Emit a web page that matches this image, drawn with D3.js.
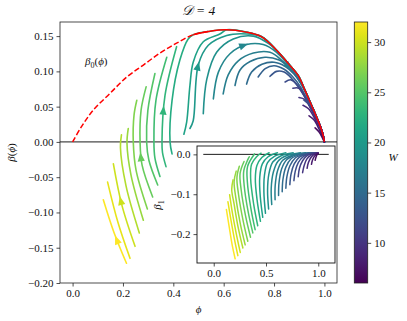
<!DOCTYPE html>
<html>
<head>
<meta charset="utf-8">
<script src="https://cdn.jsdelivr.net/npm/d3@7"></script>
<style>
body { margin: 0; background: #fff; }
text { font-family: "Liberation Serif", "DejaVu Serif", serif; fill: #111; }
</style>
</head>
<body>
<div id="viz"></div>
<script>
// beta_0(phi), red curve
var redPhi  = [0, 0.036, 0.082, 0.149, 0.215, 0.281, 0.347, 0.413, 0.479, 0.546, 0.612, 0.685, 0.751, 0.810, 0.857, 0.896, 0.923, 0.950, 0.976, 0.993, 1.0];
var redBeta = [0, 0.022, 0.045, 0.069, 0.092, 0.109, 0.126, 0.140, 0.152, 0.157, 0.159, 0.156, 0.149, 0.130, 0.111, 0.094, 0.073, 0.051, 0.029, 0.012, 0];
var dashedUntil = 0.546;

// one trajectory per W
var wValues = [32, 31, 30, 29, 28, 27, 26, 25, 24, 23, 22, 21, 20, 19, 18, 17, 16, 15, 14, 13, 12, 11, 10, 9, 8, 7];

// main panel: [phi, beta]
var mainCurves = [
  [[0.214,-0.172],[0.164,-0.128],[0.122,-0.082]],
  [[0.228,-0.165],[0.180,-0.114],[0.139,-0.057]],
  [[0.248,-0.148],[0.196,-0.090],[0.162,-0.031]],
  [[0.265,-0.129],[0.212,-0.062],[0.190,-0.008],[0.194,0.010]],
  [[0.281,-0.111],[0.232,-0.047],[0.216,-0.002],[0.221,0.019]],
  [[0.297,-0.095],[0.252,-0.040],[0.241,0],[0.244,0.038],[0.255,0.059]],
  [[0.318,-0.078],[0.276,-0.033],[0.268,0],[0.272,0.045],[0.292,0.078]],
  [[0.338,-0.061],[0.303,-0.026],[0.294,0],[0.299,0.045],[0.327,0.097]],
  [[0.347,-0.049],[0.327,-0.023],[0.323,0],[0.331,0.059],[0.374,0.120]],
  [[0.371,-0.035],[0.357,-0.015],[0.355,0],[0.367,0.066],[0.413,0.135]],
  [[0.395,-0.017],[0.387,0],[0.395,0.059],[0.426,0.116],[0.459,0.146]],
  [[0.442,0.011],[0.453,0.028],[0.466,0.080],[0.479,0.113],[0.519,0.142],[0.585,0.153]],
  [[0.466,0.019],[0.479,0.030],[0.499,0.109],[0.539,0.137],[0.612,0.151],[0.691,0.153]],
  [[0.519,0.040],[0.533,0.089],[0.572,0.127],[0.638,0.146],[0.718,0.150],[0.780,0.139]],
  [[0.559,0.061],[0.579,0.099],[0.625,0.125],[0.691,0.138],[0.757,0.138],[0.810,0.127],[0.857,0.109]],
  [[0.598,0.068],[0.618,0.095],[0.658,0.115],[0.718,0.126],[0.784,0.127],[0.836,0.114],[0.875,0.100],[0.910,0.081]],
  [[0.645,0.080],[0.665,0.102],[0.705,0.114],[0.764,0.120],[0.820,0.116],[0.860,0.105],[0.895,0.090],[0.925,0.071]],
  [[0.691,0.082],[0.711,0.099],[0.752,0.110],[0.800,0.113],[0.845,0.107],[0.880,0.096],[0.910,0.081],[0.935,0.062]],
  [[0.737,0.092],[0.765,0.104],[0.800,0.108],[0.840,0.103],[0.875,0.092],[0.905,0.078],[0.935,0.058]],
  [[0.784,0.093],[0.810,0.100],[0.840,0.099],[0.870,0.090],[0.900,0.076],[0.930,0.059],[0.955,0.043]],
  [[0.844,0.085],[0.867,0.088],[0.895,0.080],[0.920,0.066],[0.945,0.049]],
  [[0.875,0.076],[0.899,0.076],[0.925,0.062],[0.950,0.045]],
  [[0.899,0.063],[0.923,0.060],[0.945,0.048],[0.965,0.034]],
  [[0.915,0.052],[0.937,0.047],[0.959,0.035],[0.976,0.024]],
  [[0.939,0.037],[0.959,0.031],[0.979,0.018],[0.990,0.010]],
  [[0.963,0.020],[0.979,0.014],[0.993,0.005],[1.0,0]]
];
var firstJoined = 10; // from this curve on the trajectory runs down along beta_0

// arrows: [curve, phi, beta]
var arrowAt = [[0,0.172,-0.140],[2,0.204,-0.083],[6,0.272,-0.022],[9,0.363,0.044],[12,0.499,0.107],[14,0.681,0.133],[15,0.857,0.107],[20,0.940,0.058]];

// inset: [phi, beta_1]
var insetCurves = [
  [[0.205,-0.262],[0.175,-0.225],[0.148,-0.182],[0.121,-0.138]],
  [[0.231,-0.254],[0.196,-0.210],[0.163,-0.162],[0.136,-0.119]],
  [[0.254,-0.246],[0.215,-0.198],[0.178,-0.146],[0.152,-0.101]],
  [[0.279,-0.235],[0.235,-0.185],[0.195,-0.125],[0.172,-0.088],[0.185,-0.064]],
  [[0.301,-0.227],[0.255,-0.175],[0.212,-0.110],[0.195,-0.068],[0.215,-0.042]],
  [[0.326,-0.218],[0.280,-0.165],[0.237,-0.100],[0.222,-0.058],[0.245,-0.030]],
  [[0.352,-0.208],[0.305,-0.155],[0.263,-0.090],[0.252,-0.048],[0.290,-0.018]],
  [[0.374,-0.197],[0.330,-0.145],[0.292,-0.080],[0.288,-0.040],[0.340,-0.006]],
  [[0.396,-0.189],[0.355,-0.135],[0.322,-0.070],[0.324,-0.030],[0.390,0.001]],
  [[0.421,-0.179],[0.382,-0.125],[0.353,-0.060],[0.362,-0.025],[0.410,-0.006],[0.453,0.003]],
  [[0.447,-0.168],[0.415,-0.115],[0.398,-0.062],[0.413,-0.028],[0.460,-0.008],[0.530,0.004]],
  [[0.469,-0.158],[0.445,-0.105],[0.440,-0.058],[0.465,-0.024],[0.520,-0.006],[0.610,0.004]],
  [[0.495,-0.148],[0.480,-0.095],[0.485,-0.053],[0.515,-0.021],[0.580,-0.005],[0.690,0.004]],
  [[0.525,-0.137],[0.515,-0.090],[0.527,-0.050],[0.565,-0.019],[0.640,-0.004],[0.760,0.004]],
  [[0.555,-0.126],[0.550,-0.085],[0.570,-0.045],[0.615,-0.017],[0.700,-0.003],[0.830,0.004]],
  [[0.587,-0.114],[0.588,-0.078],[0.612,-0.040],[0.660,-0.015],[0.750,-0.002],[0.880,0.004]],
  [[0.620,-0.103],[0.625,-0.070],[0.650,-0.036],[0.700,-0.013],[0.790,-0.001],[0.910,0.004]],
  [[0.655,-0.094],[0.662,-0.063],[0.690,-0.032],[0.740,-0.011],[0.830,0],[0.940,0.004]],
  [[0.690,-0.085],[0.700,-0.056],[0.730,-0.028],[0.780,-0.009],[0.860,0],[0.960,0.004]],
  [[0.728,-0.076],[0.740,-0.049],[0.770,-0.024],[0.820,-0.007],[0.890,0.001],[0.975,0.004]],
  [[0.767,-0.066],[0.780,-0.042],[0.810,-0.020],[0.860,-0.005],[0.920,0.002],[0.985,0.004]],
  [[0.808,-0.056],[0.820,-0.035],[0.850,-0.016],[0.890,-0.004],[0.940,0.002],[0.990,0.004]],
  [[0.850,-0.046],[0.865,-0.028],[0.890,-0.012],[0.930,-0.002],[0.995,0.004]],
  [[0.893,-0.035],[0.905,-0.021],[0.930,-0.008],[0.960,0],[1.0,0.004]],
  [[0.935,-0.025],[0.945,-0.014],[0.965,-0.004],[1.0,0.003]],
  [[0.970,-0.015],[0.978,-0.007],[0.990,0],[1.0,0.002]]
];
var insetZeroLine = [-0.1, 1.1];

var xTicks = [0, 0.2, 0.4, 0.6, 0.8, 1.0],
    yTicks = [-0.2, -0.15, -0.1, -0.05, 0, 0.05, 0.1, 0.15],
    insetXTicks = [0, 0.5, 1.0],
    insetYTicks = [0, -0.1, -0.2],
    cbarTicks = [10, 15, 20, 25, 30];

var W = 407, H = 321,
    margin = { top: 22, right: 70, bottom: 38, left: 60 },
    width = 277, height = 261,
    tickLen = 3.5,
    fontSize = 11;

var svg = d3.select('#viz').append('svg')
    .attr('width', W).attr('height', H);

var x = d3.scaleLinear().domain([-0.05, 1.05]).range([margin.left, margin.left + width]),
    y = d3.scaleLinear().domain([-0.2, 0.17]).range([margin.top + height, margin.top]),
    color = d3.scaleSequential(d3.interpolateViridis).domain([6, 32]);

var defs = svg.append('defs');
defs.append('clipPath').attr('id', 'mainClip').append('rect')
    .attr('x', margin.left).attr('y', margin.top).attr('width', width).attr('height', height);

var line = d3.line().x(function(d){ return x(d[0]); }).y(function(d){ return y(d[1]); })
    .curve(d3.curveCatmullRom.alpha(0.5));

var plot = svg.append('g').attr('clip-path', 'url(#mainClip)');

// beta = 0
plot.append('line')
    .attr('x1', margin.left).attr('x2', margin.left + width)
    .attr('y1', y(0)).attr('y2', y(0))
    .attr('stroke', '#000').attr('stroke-width', 0.9);

var redPts = redPhi.map(function(p, i){ return [p, redBeta[i]]; });

var paths = [];
mainCurves.forEach(function(c, i) {
    var pts = c.slice();
    if (i >= firstJoined) {
        var last = c[c.length - 1][0];
        redPts.forEach(function(r){ if (r[0] > last + 0.008) pts.push(r); });
    }
    var p = plot.append('path')
        .attr('d', line(pts))
        .attr('fill', 'none')
        .attr('stroke', color(wValues[i]))
        .attr('stroke-width', 1.6)
        .attr('stroke-linecap', 'round');
    paths.push(p.node());
});

// arrow heads, placed on the curve nearest the read position
arrowAt.forEach(function(a) {
    var node = paths[a[0]], len = node.getTotalLength();
    var tx = x(a[1]), ty = y(a[2]), best = 0, bestD = Infinity;
    for (var l = 0; l <= len; l += 0.5) {
        var q = node.getPointAtLength(l);
        var dd = (q.x - tx) * (q.x - tx) + (q.y - ty) * (q.y - ty);
        if (dd < bestD) { bestD = dd; best = l; }
    }
    var p0 = node.getPointAtLength(Math.max(0, best - 2)),
        p1 = node.getPointAtLength(Math.min(len, best + 2)),
        c = node.getPointAtLength(best),
        ang = Math.atan2(p1.y - p0.y, p1.x - p0.x) * 180 / Math.PI;
    plot.append('path')
        .attr('d', 'M5,0L-4,-3.6L-4,3.6Z')
        .attr('transform', 'translate(' + c.x + ',' + c.y + ') rotate(' + ang + ')')
        .attr('fill', color(wValues[a[0]]));
});

// beta_0 curve: dashed part, then solid part
var redLine = d3.line().x(function(d){ return x(d[0]); }).y(function(d){ return y(d[1]); })
    .curve(d3.curveCatmullRom.alpha(0.5));
plot.append('path')
    .attr('d', redLine(redPts.filter(function(r){ return r[0] <= dashedUntil; })))
    .attr('fill', 'none').attr('stroke', '#ff0000').attr('stroke-width', 1.5)
    .attr('stroke-dasharray', '5.5,2.4');
plot.append('path')
    .attr('d', redLine(redPts.filter(function(r){ return r[0] >= 0.479; })))
    .attr('fill', 'none').attr('stroke', '#ff0000').attr('stroke-width', 1.5);

// main axes
function styleAxis(g) {
    g.select('.domain').remove();
    g.selectAll('.tick line').attr('stroke', '#222').attr('stroke-width', 0.8);
    g.selectAll('.tick text').style('font-size', fontSize + 'px').attr('fill', '#111');
}
svg.append('g')
    .attr('transform', 'translate(0,' + (margin.top + height) + ')')
    .call(d3.axisBottom(x).tickValues(xTicks).tickSize(tickLen).tickPadding(3).tickFormat(d3.format('.1f')))
    .call(styleAxis);
svg.append('g')
    .attr('transform', 'translate(' + margin.left + ',0)')
    .call(d3.axisLeft(y).tickValues(yTicks).tickSize(tickLen).tickPadding(3).tickFormat(d3.format('.2f')))
    .call(styleAxis);
svg.append('rect')
    .attr('x', margin.left).attr('y', margin.top).attr('width', width).attr('height', height)
    .attr('fill', 'none').attr('stroke', '#222').attr('stroke-width', 0.8);

svg.append('text')
    .attr('x', margin.left + width / 2).attr('y', 15)
    .attr('text-anchor', 'middle').style('font-size', '13.5px').style('font-style', 'italic')
    .text('𝒟 = 4');
svg.append('text')
    .attr('x', margin.left + width / 2).attr('y', 313)
    .attr('text-anchor', 'middle').style('font-size', fontSize + 'px').style('font-style', 'italic')
    .text('ϕ');
svg.append('text')
    .attr('transform', 'translate(15,' + (margin.top + height / 2) + ') rotate(-90)')
    .attr('text-anchor', 'middle').style('font-size', fontSize + 'px')
    .call(function(t){
        t.append('tspan').style('font-style', 'italic').text('β');
        t.append('tspan').text('(');
        t.append('tspan').style('font-style', 'italic').text('ϕ');
        t.append('tspan').text(')');
    });

var b0 = svg.append('text')
    .attr('x', 85).attr('y', 65).style('font-size', fontSize + 'px');
b0.append('tspan').style('font-style', 'italic').text('β');
b0.append('tspan').attr('dy', 2.5).style('font-size', '8px').text('0');
b0.append('tspan').attr('dy', -2.5).text('(');
b0.append('tspan').style('font-style', 'italic').text('ϕ');
b0.append('tspan').text(')');

// inset
var ix = d3.scaleLinear().domain([-0.16, 1.16]).range([197, 335]),
    iy = d3.scaleLinear().domain([-0.2725, 0.021]).range([263, 146]);

svg.append('rect')
    .attr('x', 197).attr('y', 146).attr('width', 138).attr('height', 117)
    .attr('fill', '#fff');
defs.append('clipPath').attr('id', 'insetClip').append('rect')
    .attr('x', 197).attr('y', 146).attr('width', 138).attr('height', 117);
var inset = svg.append('g').attr('clip-path', 'url(#insetClip)');

inset.append('line')
    .attr('x1', ix(insetZeroLine[0])).attr('x2', ix(insetZeroLine[1]))
    .attr('y1', iy(0)).attr('y2', iy(0))
    .attr('stroke', '#000').attr('stroke-width', 0.9);

var iline = d3.line().x(function(d){ return ix(d[0]); }).y(function(d){ return iy(d[1]); })
    .curve(d3.curveCatmullRom.alpha(0.5));
insetCurves.forEach(function(c, i) {
    inset.append('path')
        .attr('d', iline(c))
        .attr('fill', 'none')
        .attr('stroke', color(wValues[i]))
        .attr('stroke-width', 1.5)
        .attr('stroke-linecap', 'round');
});

svg.append('g')
    .attr('transform', 'translate(0,263)')
    .call(d3.axisBottom(ix).tickValues(insetXTicks).tickSize(tickLen).tickPadding(3).tickFormat(d3.format('.1f')))
    .call(styleAxis);
svg.append('g')
    .attr('transform', 'translate(197,0)')
    .call(d3.axisLeft(iy).tickValues(insetYTicks).tickSize(tickLen).tickPadding(3).tickFormat(d3.format('.1f')))
    .call(styleAxis);
svg.append('rect')
    .attr('x', 197).attr('y', 146).attr('width', 138).attr('height', 117)
    .attr('fill', 'none').attr('stroke', '#111').attr('stroke-width', 0.9);

var b1 = svg.append('text')
    .attr('transform', 'translate(161,205) rotate(-90)')
    .attr('text-anchor', 'middle').style('font-size', fontSize + 'px');
b1.append('tspan').style('font-style', 'italic').text('β');
b1.append('tspan').attr('dy', 2.5).style('font-size', '8px').text('1');

// colorbar
var cbX = 354.3, cbW = 13.4;
var cy = d3.scaleLinear().domain([6, 32]).range([margin.top + height, margin.top]);
var grad = defs.append('linearGradient').attr('id', 'cbGrad')
    .attr('x1', 0).attr('y1', 1).attr('x2', 0).attr('y2', 0);
d3.range(0, 1.0001, 0.05).forEach(function(t) {
    grad.append('stop').attr('offset', t).attr('stop-color', d3.interpolateViridis(t));
});
svg.append('rect')
    .attr('x', cbX).attr('y', margin.top).attr('width', cbW).attr('height', height)
    .attr('fill', 'url(#cbGrad)').attr('stroke', '#222').attr('stroke-width', 0.8);
svg.append('g')
    .attr('transform', 'translate(' + (cbX + cbW) + ',0)')
    .call(d3.axisRight(cy).tickValues(cbarTicks).tickSize(tickLen).tickPadding(3))
    .call(styleAxis);
svg.append('text')
    .attr('x', 393).attr('y', 161)
    .attr('text-anchor', 'middle').style('font-size', fontSize + 'px').style('font-style', 'italic')
    .text('W');
</script>
</body>
</html>
